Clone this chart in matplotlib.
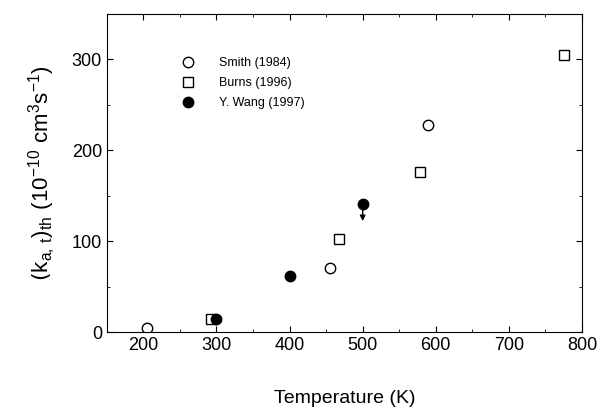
import numpy as np
import matplotlib
matplotlib.use('Agg')
import matplotlib.pyplot as plt
from matplotlib.ticker import MultipleLocator

plt.rcParams['font.family'] = ['Liberation Sans', 'DejaVu Sans']

# data
smith_T = [205, 455, 590]
smith_k = [4, 71, 228]
burns_T = [292, 467, 578, 775]
burns_k = [14, 102, 176, 305]
wang_T = [300, 400, 500]
wang_k = [14, 62, 141]
# upper-limit arrow on the 500 K Wang point
arrow_T = 500
arrow_from = 141
arrow_to = 119

fig = plt.figure(figsize=(6.0, 4.09), dpi=100)
ax = fig.add_axes([0.178, 0.188, 0.792, 0.778])

ax.plot(smith_T, smith_k, 'o', mfc='white', mec='black', mew=1.0, ms=7.5, label='Smith (1984)')
ax.plot(burns_T, burns_k, 's', mfc='white', mec='black', mew=1.0, ms=7.5, label='Burns (1996)')
ax.plot(wang_T, wang_k, 'o', mfc='black', mec='black', ms=7.5, label='Y. Wang (1997)')
ax.annotate('', xy=(arrow_T, arrow_to), xytext=(arrow_T, arrow_from),
            arrowprops=dict(arrowstyle='-|>', color='black', lw=1.0, mutation_scale=8))

ax.set_xlim(150, 800)
ax.set_ylim(0, 350)
ax.xaxis.set_major_locator(MultipleLocator(100))
ax.xaxis.set_minor_locator(MultipleLocator(50))
ax.yaxis.set_major_locator(MultipleLocator(100))
ax.yaxis.set_minor_locator(MultipleLocator(50))
ax.tick_params(which='both', direction='in', top=True, right=True, labelsize=13)
ax.tick_params(which='major', length=4)
ax.tick_params(which='minor', length=2)

ax.set_xlabel('Temperature (K)', fontsize=14, labelpad=26)
ax.set_ylabel(r'$(\mathregular{k_{a,\,t})_{th}\ (10^{-10}\ cm^3s^{-1})}$', fontsize=16, labelpad=10)

ax.legend(loc='upper left', bbox_to_anchor=(0.12, 0.9), frameon=False, fontsize=9,
          handletextpad=1.5, labelspacing=0.65, numpoints=1)

fig.savefig('out.png', dpi=100)
